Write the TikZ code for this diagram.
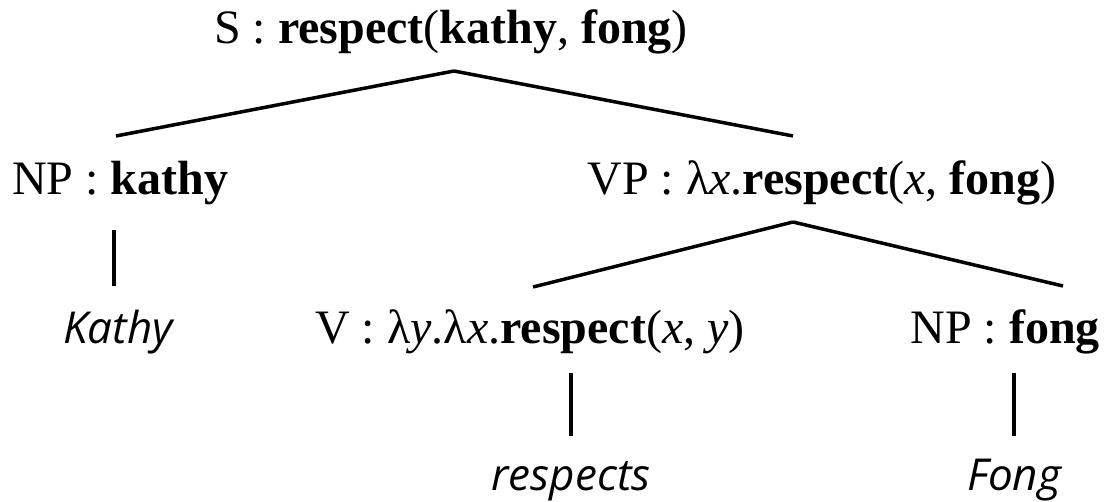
\documentclass[tikz,border=0pt]{standalone}
\usepackage{fontspec}
\setmainfont{Liberation Serif}
\newfontfamily\wordfont{Open Sans}
\tikzset{
  lab/.style={anchor=base, inner sep=0pt, font=\fontsize{48}{52}\selectfont},
  word/.style={anchor=base, inner sep=0pt, font=\wordfont\itshape\fontsize{44}{50}\selectfont},
  edge/.style={line width=3.5pt}
}
\newcommand{\vx}{\textit{x}}
\newcommand{\vy}{\textit{y}}
\begin{document}
\begin{tikzpicture}[x=1pt,y=-1pt]
\useasboundingbox (0,0) rectangle (1107,502);
\node[lab] (s) at (451,44) {S : \textbf{respect}(\textbf{kathy}, \textbf{fong})};
\node[lab,anchor=base west] (np1) at (12,195) {NP : \textbf{kathy}};
\node[lab] (vp) at (822,195) {VP : λ\vx.\textbf{respect}(\vx, \textbf{fong})};
\node[word] (kathy) at (118,343) {Kathy};
\node[lab] (v) at (530,343) {V : λ\vy.λ\vx.\textbf{respect}(\vx, \vy)};
\node[lab,anchor=base east] (np2) at (1100,343) {NP : \textbf{fong}};
\node[word] (respects) at (571,490) {respects};
\node[word] (fong) at (1014,490) {Fong};
\coordinate (sb) at (454,71);
\coordinate (vpb) at (793,222);
\draw[edge] (sb) -- (116,136);
\draw[edge] (sb) -- (793,136);
\draw[edge] (vpb) -- (533,287);
\draw[edge] (vpb) -- (1063,286);
\draw[edge] (114,230) -- (114,286);
\draw[edge] (571,373) -- (571,436);
\draw[edge] (1014,373) -- (1014,436);
\end{tikzpicture}
\end{document}
